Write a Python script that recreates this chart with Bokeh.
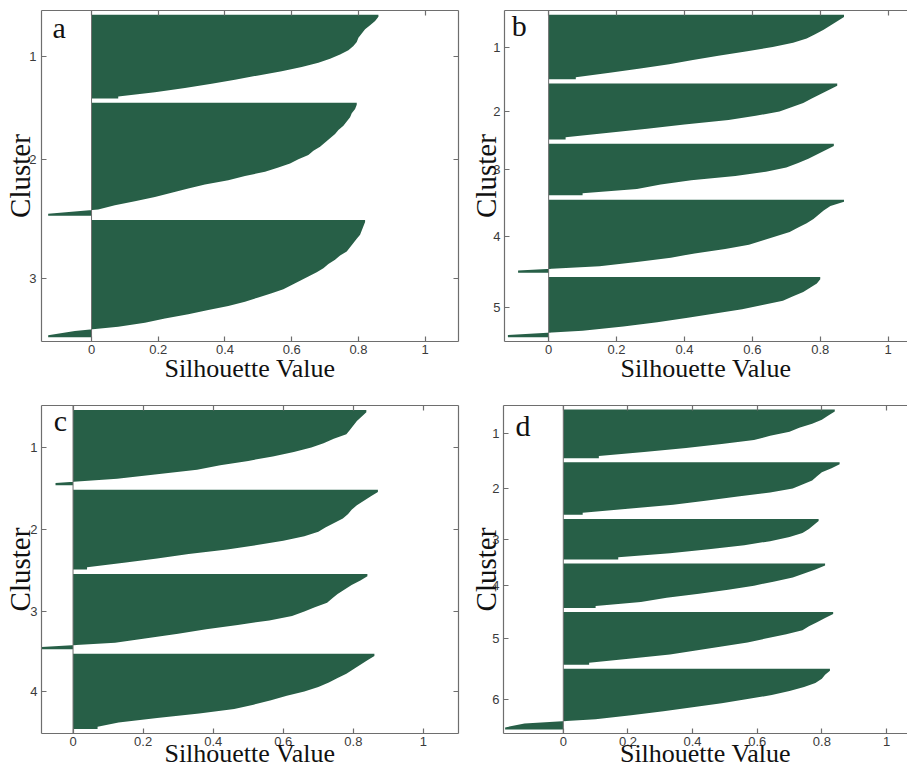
from bokeh.plotting import figure
from bokeh.models import Range1d, LinearAxis, FixedTicker, Span, Label
from bokeh.layouts import column, row
from bokeh.embed import file_html
from bokeh.resources import INLINE

# ---------------- data (silhouette values, sorted per cluster) ----------------
a_c1 = [0.86, 0.85, 0.835, 0.82, 0.81, 0.80, 0.795, 0.785, 0.77, 0.745, 0.715, 0.68, 0.63, 0.57,
        0.50, 0.43, 0.36, 0.28, 0.19, 0.08]
a_c2 = [0.795, 0.79, 0.78, 0.775, 0.765, 0.755, 0.74, 0.73, 0.715, 0.70, 0.685, 0.665, 0.65, 0.62,
        0.595, 0.56, 0.52, 0.46, 0.41, 0.34, 0.29, 0.24, 0.19, 0.13, 0.07, 0.02, -0.13]
a_c3 = [0.82, 0.815, 0.81, 0.805, 0.795, 0.785, 0.775, 0.765, 0.745, 0.73, 0.71, 0.695, 0.675, 0.65,
        0.625, 0.60, 0.575, 0.54, 0.50, 0.46, 0.41, 0.35, 0.29, 0.22, 0.16, 0.08, -0.05, -0.13]

b_c1 = [0.87, 0.85, 0.83, 0.81, 0.785, 0.76, 0.72, 0.66, 0.585, 0.50, 0.425, 0.355, 0.27, 0.18, 0.08]
b_c2 = [0.85, 0.825, 0.80, 0.775, 0.75, 0.715, 0.68, 0.61, 0.53, 0.40, 0.29, 0.17, 0.05]
b_c3 = [0.84, 0.815, 0.79, 0.765, 0.735, 0.70, 0.64, 0.55, 0.42, 0.33, 0.26, 0.10]
b_c4 = [0.87, 0.83, 0.81, 0.795, 0.78, 0.76, 0.735, 0.71, 0.67, 0.63, 0.59, 0.52, 0.43, 0.36,
        0.26, 0.15, -0.09]
b_c5 = [0.80, 0.79, 0.77, 0.75, 0.72, 0.69, 0.63, 0.57, 0.49, 0.41, 0.32, 0.22, 0.10, -0.12]

c_c1 = [0.837, 0.824, 0.81, 0.80, 0.79, 0.78, 0.744, 0.715, 0.68, 0.63, 0.57, 0.50, 0.42, 0.354,
        0.24, 0.126, -0.05]
c_c2 = [0.87, 0.85, 0.83, 0.81, 0.795, 0.785, 0.77, 0.745, 0.72, 0.70, 0.66, 0.60, 0.525, 0.44,
        0.33, 0.24, 0.145, 0.04]
c_c3 = [0.84, 0.82, 0.795, 0.775, 0.755, 0.74, 0.725, 0.69, 0.66, 0.625, 0.56, 0.47, 0.38, 0.30,
        0.21, 0.12, -0.09]
c_c4 = [0.86, 0.84, 0.82, 0.80, 0.78, 0.755, 0.73, 0.70, 0.66, 0.61, 0.565, 0.515, 0.46, 0.36,
        0.24, 0.13, 0.07]

d_c1 = [0.84, 0.82, 0.80, 0.77, 0.73, 0.70, 0.64, 0.59, 0.49, 0.38, 0.25, 0.11]
d_c2 = [0.855, 0.83, 0.80, 0.785, 0.77, 0.74, 0.71, 0.64, 0.54, 0.44, 0.34, 0.20, 0.06]
d_c3 = [0.79, 0.775, 0.76, 0.74, 0.70, 0.64, 0.56, 0.45, 0.33, 0.17]
d_c4 = [0.81, 0.78, 0.745, 0.71, 0.65, 0.59, 0.51, 0.42, 0.32, 0.24, 0.10]
d_c5 = [0.835, 0.81, 0.785, 0.76, 0.74, 0.69, 0.63, 0.57, 0.49, 0.41, 0.33, 0.21, 0.08]
d_c6 = [0.825, 0.81, 0.80, 0.78, 0.745, 0.70, 0.645, 0.57, 0.49, 0.40, 0.31, 0.21, 0.10, -0.12, -0.18]

panel_letters = ["a", "b", "c", "d"]
x_limits = [(-0.15, 1.1), (-0.13, 1.057), (-0.09, 1.1), (-0.185, 1.065)]
x_ticks = [0, 0.2, 0.4, 0.6, 0.8, 1]
x_tick_labels = ["0", "0.2", "0.4", "0.6", "0.8", "1"]
x_title = "Silhouette Value"
y_title = "Cluster"

# ---------------- style ----------------
GREEN = "#275f47"
AXIS = "#6e6e6e"
TICKTXT = "#3a3a3a"
SERIF = "Liberation Serif"
SANS = "Liberation Sans"


def style_axis(ax, labels=True):
    ax.axis_line_color = AXIS
    ax.axis_line_width = 1.2
    ax.major_tick_line_color = AXIS
    ax.major_tick_line_width = 1.2
    ax.major_tick_in = 5
    ax.major_tick_out = 0
    ax.minor_tick_line_color = None
    if labels:
        ax.major_label_text_font = SANS
        ax.major_label_text_font_size = "13px"
        ax.major_label_text_color = TICKTXT
    else:
        # tick marks only: labels are not drawn
        ax.major_label_text_font_size = "1px"
        ax.major_label_text_color = None
        ax.major_label_standoff = 0


def make_panel(clusters, xlim, letter, letter_pos, width, height, borders, right_axis,
               y_label_standoff, x_label_standoff, y_tick_standoff):
    margin, gap = 1, 1
    pos = margin
    shapes, centers = [], []
    for vals in clusters:
        n = len(vals)
        ys = [pos + 0.5 + i for i in range(n)]
        centers.append(sum(ys) / n)
        # outline of the cluster: one point per member row, closed at the cluster's top/bottom edge
        shapes.append(([pos] + ys + [pos + n], [vals[0]] + list(vals) + [vals[-1]]))
        pos += n + gap
    total = pos - gap + margin

    p = figure(width=width, height=height, output_backend="svg", toolbar_location=None,
               x_range=Range1d(*xlim), y_range=Range1d(total, 0),
               min_border_left=borders[0], min_border_right=borders[1],
               min_border_top=borders[2], min_border_bottom=borders[3])
    p.outline_line_color = None
    p.xgrid.visible = False
    p.ygrid.visible = False
    p.background_fill_color = "white"
    p.border_fill_color = "white"

    for ys, xs in shapes:
        p.harea(y=ys, x1=[0] * len(xs), x2=xs, fill_color=GREEN)

    p.add_layout(Span(location=0, dimension="height", line_color=AXIS, line_width=1))

    # bottom axis
    xa = p.xaxis[0]
    xa.ticker = FixedTicker(ticks=x_ticks)
    xa.major_label_overrides = {t: s for t, s in zip(x_ticks, x_tick_labels)}
    style_axis(xa)
    xa.major_label_standoff = 3
    xa.axis_label = x_title
    xa.axis_label_text_font = SERIF
    xa.axis_label_text_font_size = "26px"
    xa.axis_label_text_font_style = "normal"
    xa.axis_label_text_color = "#111111"
    xa.axis_label_standoff = x_label_standoff

    # left axis
    ya = p.yaxis[0]
    ya.ticker = FixedTicker(ticks=centers)
    ya.major_label_overrides = {c: str(i + 1) for i, c in enumerate(centers)}
    style_axis(ya)
    ya.major_label_standoff = y_tick_standoff
    ya.axis_label = y_title
    ya.axis_label_text_font = SERIF
    ya.axis_label_text_font_size = "29px"
    ya.axis_label_text_font_style = "normal"
    ya.axis_label_text_color = "#111111"
    ya.axis_label_standoff = y_label_standoff

    # top axis (ticks only, box style)
    top = LinearAxis(ticker=FixedTicker(ticks=x_ticks))
    style_axis(top, labels=False)
    p.add_layout(top, "above")

    if right_axis:
        right = LinearAxis(ticker=FixedTicker(ticks=centers))
        style_axis(right, labels=False)
        p.add_layout(right, "right")

    p.add_layout(Label(x=letter_pos[0], y=letter_pos[1], text=letter,
                       text_font=SERIF, text_font_size="30px", text_color="#111111",
                       text_baseline="middle", text_align="left"))
    return p


pa = make_panel([a_c1, a_c2, a_c3], x_limits[0], panel_letters[0], (-0.117, 4.1),
                width=466, height=387, borders=(41, 8, 10, 46), right_axis=True,
                y_label_standoff=-10, x_label_standoff=-3, y_tick_standoff=5)
pb = make_panel([b_c1, b_c2, b_c3, b_c4, b_c5], x_limits[1], panel_letters[1], (-0.109, 3.5),
                width=441, height=387, borders=(38, 0, 10, 46), right_axis=False,
                y_label_standoff=-12, x_label_standoff=-3, y_tick_standoff=4)
pc = make_panel([c_c1, c_c2, c_c3, c_c4], x_limits[2], panel_letters[2], (-0.055, 3.4),
                width=466, height=383, borders=(41, 8, 18, 37), right_axis=True,
                y_label_standoff=-9, x_label_standoff=-10, y_tick_standoff=4)
pd_ = make_panel([d_c1, d_c2, d_c3, d_c4, d_c5, d_c6], x_limits[3], panel_letters[3], (-0.148, 4.9),
                 width=441, height=383, borders=(37, 0, 18, 37), right_axis=False,
                 y_label_standoff=-13, x_label_standoff=-10, y_tick_standoff=4)

layout = column(row(pa, pb), row(pc, pd_))

with open("out.html", "w") as f:
    f.write(file_html(layout, INLINE))
